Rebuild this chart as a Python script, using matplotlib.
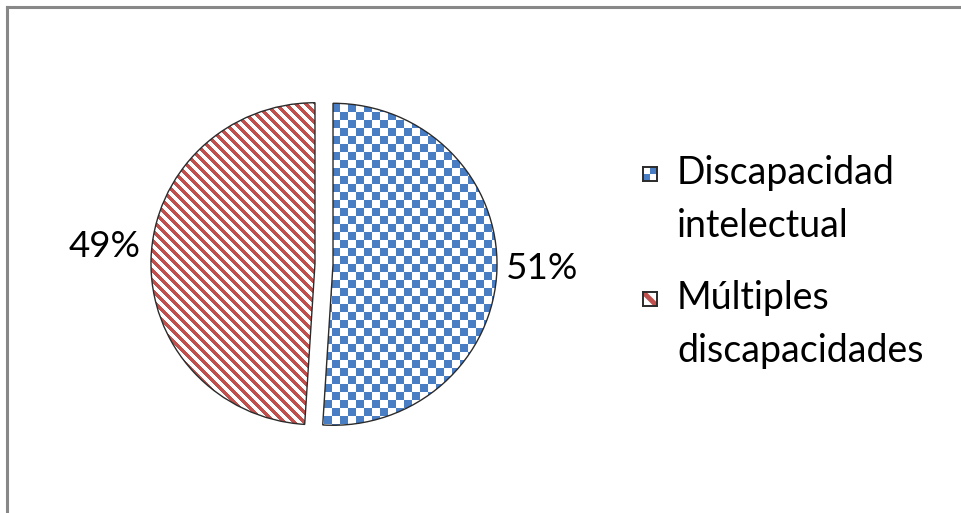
import matplotlib.pyplot as plt
import numpy as np
from matplotlib.lines import Line2D
from matplotlib.patches import Wedge
from matplotlib.colors import ListedColormap

# Share of each disability type
labels = ['Discapacidad\nintelectual', 'Múltiples\ndiscapacidades']
values = [51, 49]
pct_labels = ['51%', '49%']

blue = '#4a7ec4'
red = '#c0504d'
outline = '#2b2b2b'

plt.rcParams['font.family'] = ['Lato', 'DejaVu Sans']

W, H = 962, 513
fig = plt.figure(figsize=(W / 100, H / 100), dpi=100)

# pie centre and radii in pixels (slightly wider than tall)
cx, cy, rx, ry = 324, 249, 164, 161
half = 200
ax = fig.add_axes([(cx - half) / W, (cy - half) / H, 2 * half / W, 2 * half / H])

wedges, _ = ax.pie(values, startangle=90, counterclock=False,
                   explode=[0.055, 0.055], radius=1,
                   colors=['white', 'white'],
                   wedgeprops=dict(linewidth=0))
xl, yl = half / rx, half / ry
ax.set_xlim(-xl, xl)
ax.set_ylim(-yl, yl)
ax.set_aspect('auto')
ax.axis('off')

# pixel-sized fill patterns: checkerboard (8 px cells) and diagonal stripes (10 px period)
rows, cols = np.indices((2 * half, 2 * half))
checker = ((rows // 8 + cols // 8) % 2).astype(float)
stripes = (((cols - rows) % 10) < 5).astype(float)

for w, pattern, color in [(wedges[0], checker, blue), (wedges[1], stripes, red)]:
    im = ax.imshow(pattern, cmap=ListedColormap(['white', color]),
                   interpolation='nearest', extent=[-xl, xl, -yl, yl],
                   origin='upper', zorder=2, aspect='auto')
    im.set_clip_path(w)

# dark outlines on top
for w in wedges:
    ax.add_patch(Wedge(w.center, w.r, w.theta1, w.theta2, fill=False,
                       edgecolor=outline, linewidth=1.0, zorder=3))

# percentage labels
ax.text(1.33, -0.03, pct_labels[0], fontsize=26.5, ha='center', va='center')
ax.text(-1.34, 0.11, pct_labels[1], fontsize=26.5, ha='center', va='center')

# legend drawn by hand: small marker boxes plus two-line labels
def marker_box(x, y, kind):
    s = 14
    mx = fig.add_axes([x / W, (H - y - s) / H, s / W, s / H])
    mx.set_xlim(0, 1)
    mx.set_ylim(0, 1)
    if kind == 'checker':
        mx.imshow([[0, 1], [1, 0]], cmap=ListedColormap(['white', blue]),
                  extent=[0, 1, 0, 1], interpolation='nearest', aspect='auto')
    else:
        mx.plot([0, 1], [1, 0], color=red, linewidth=3.5, solid_capstyle='butt')
    mx.set_xticks([])
    mx.set_yticks([])
    for sp in mx.spines.values():
        sp.set_color(outline)
        sp.set_linewidth(1.4)

marker_box(643, 167, 'checker')
marker_box(643, 292, 'stripes')
fig.text(677 / W, 1 - 155 / H, labels[0], fontsize=27, va='top', ha='left',
         linespacing=1.6)
fig.text(677 / W, 1 - 280 / H, labels[1], fontsize=27, va='top', ha='left',
         linespacing=1.6)

# chart area border (top and left edges)
fig.add_artist(Line2D([6.5 / W, 1], [1 - 6.5 / H, 1 - 6.5 / H], color='#888888',
                      linewidth=2.2, transform=fig.transFigure))
fig.add_artist(Line2D([6.5 / W, 6.5 / W], [0, 1 - 6.5 / H], color='#888888',
                      linewidth=2.2, transform=fig.transFigure))

fig.savefig('out.png', dpi=100)
